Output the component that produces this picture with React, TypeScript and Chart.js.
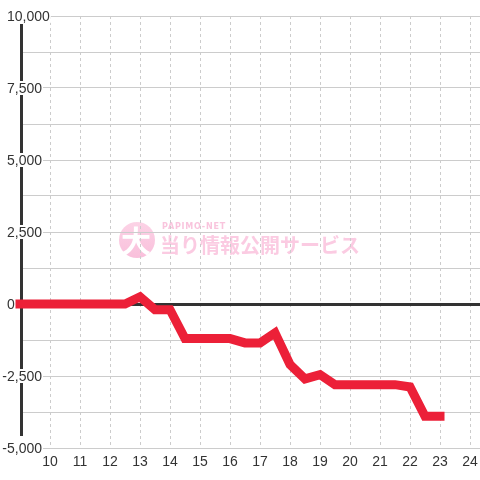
import { useEffect, useRef } from "react";
import { Chart, registerables } from "chart.js";

Chart.register(...registerables);

// ---- data ----
const hours = [9, 9.5, 10, 10.5, 11, 11.5, 12, 12.5, 13, 13.5, 14, 14.5, 15, 15.5, 16, 16.5, 17, 17.5, 18, 18.5, 19, 19.5, 20, 20.5, 21, 21.5, 22, 22.5, 23];
const values = [0, 0, 0, 0, 0, 0, 0, 0, 250, -200, -200, -1200, -1200, -1200, -1200, -1350, -1350, -1000, -2100, -2600, -2450, -2800, -2800, -2800, -2800, -2800, -2880, -3900, -3900];
const xTickLabels = [10, 11, 12, 13, 14, 15, 16, 17, 18, 19, 20, 21, 22, 23, 24];
const yLabelValues = [-5000, -2500, 0, 2500, 5000, 7500, 10000];
const yMin = -5000;
const yMax = 10000;
const yGridStep = 1250;
const xMin = 9;
const xMax = 24.333;

const watermarkSmall = "PAPIMO-NET";
const watermarkBig = "当り情報公開サービス";
const watermarkIcon = "大";

const FONT = "'Liberation Sans', Arial, sans-serif";

const decorPlugin = {
  id: "decor",
  beforeDraw(chart: any) {
    const { ctx, chartArea } = chart;
    const cx = (chartArea.left + chartArea.right) / 2;
    const cy = (chartArea.top + chartArea.bottom) / 2;
    ctx.save();
    // icon circle
    const ix = cx - 113;
    const iy = cy + 8;
    const g = ctx.createLinearGradient(ix, iy - 18, ix, iy + 18);
    g.addColorStop(0, "#fcd3e6");
    g.addColorStop(1, "#f9bfdb");
    ctx.fillStyle = g;
    ctx.beginPath();
    ctx.arc(ix, iy, 18, 0, Math.PI * 2);
    ctx.fill();
    ctx.fillStyle = "#ffffff";
    ctx.font = `bold 30px 'Noto Sans CJK JP', sans-serif`;
    ctx.textAlign = "center";
    ctx.textBaseline = "middle";
    ctx.fillText(watermarkIcon, ix - 1, iy + 1);
    // small text
    ctx.fillStyle = "#f9c4dd";
    ctx.font = `bold 8px 'DejaVu Sans', sans-serif`;
    ctx.textAlign = "left";
    ctx.textBaseline = "middle";
    (ctx as any).letterSpacing = "0.8px";
    ctx.fillText(watermarkSmall, cx - 88, cy - 5);
    (ctx as any).letterSpacing = "0px";
    // big text
    ctx.fillStyle = "#fbcbe2";
    ctx.font = `bold 20px 'Noto Sans CJK JP', sans-serif`;
    ctx.textBaseline = "middle";
    ctx.fillText(watermarkBig, cx - 90, cy + 13);
    ctx.restore();
  },
  beforeDatasetsDraw(chart: any) {
    const { ctx, chartArea, scales } = chart;
    const y = scales.y;
    ctx.save();
    // zero line
    const y0 = y.getPixelForValue(0);
    ctx.strokeStyle = "#333333";
    ctx.lineWidth = 3;
    ctx.beginPath();
    ctx.moveTo(chartArea.left, y0 + 0.5);
    ctx.lineTo(chartArea.right, y0 + 0.5);
    ctx.stroke();
    // axis line
    ctx.beginPath();
    ctx.moveTo(chartArea.left + 1.5, y.getPixelForValue(yMax) + 8);
    ctx.lineTo(chartArea.left + 1.5, y.getPixelForValue(yMin) - 12);
    ctx.stroke();
    // labels
    ctx.font = `14px ${FONT}`;
    ctx.textBaseline = "middle";
    ctx.textAlign = "left";
    const baseX = chartArea.left - 13;
    for (const v of yLabelValues) {
      const label = v.toLocaleString("en-US");
      const py = y.getPixelForValue(v);
      const minusW = v < 0 ? ctx.measureText("-").width : 0;
      const x = baseX - minusW;
      const w = ctx.measureText(label).width;
      ctx.fillStyle = "#ffffff";
      ctx.fillRect(x - 1, py - 7, w + 2, 14);
      ctx.fillStyle = "#333333";
      ctx.fillText(label, x, py + 1);
    }
    ctx.restore();
  },
};

export default function App() {
  const ref = useRef<HTMLCanvasElement | null>(null);
  useEffect(() => {
    if (!ref.current) return;
    const chart = new Chart(ref.current, {
      type: "line",
      data: {
        datasets: [
          {
            data: hours.map((h, i) => ({ x: h, y: values[i] })),
            borderColor: "#ec2038",
            borderWidth: 9,
            borderCapStyle: "square",
            borderJoinStyle: "miter",
            pointRadius: 0,
            tension: 0,
            fill: false,
            clip: false as any,
          },
        ],
      },
      plugins: [decorPlugin],
      options: {
        animation: false,
        responsive: false,
        maintainAspectRatio: false,
        devicePixelRatio: 1,
        layout: { padding: { left: 20, top: 16, right: 0, bottom: 0 } },
        plugins: { legend: { display: false }, tooltip: { enabled: false } },
        scales: {
          x: {
            type: "linear",
            min: xMin,
            max: xMax,
            afterBuildTicks: (s: any) => {
              s.ticks = xTickLabels.map((v) => ({ value: v }));
            },
            afterFit: (s: any) => {
              s.height = 32;
              s.paddingLeft = 0;
              s.paddingRight = 0;
            },
            border: { display: false, dash: [3, 3] },
            grid: { color: "#cccccc", lineWidth: 1, drawTicks: false },
            ticks: {
              color: "#333333",
              font: { size: 14, family: FONT },
              padding: 6,
              autoSkip: false,
              maxRotation: 0,
              callback: (v: any) => String(v),
            },
          } as any,
          y: {
            type: "linear",
            min: yMin,
            max: yMax,
            afterBuildTicks: (s: any) => {
              const t = [];
              for (let v = yMin; v <= yMax; v += yGridStep) t.push({ value: v });
              s.ticks = t;
            },
            afterFit: (s: any) => {
              s.width = 0;
              s.paddingTop = 0;
              s.paddingBottom = 0;
            },
            border: { display: false },
            grid: { color: "#cccccc", lineWidth: 1, drawTicks: false },
            ticks: { display: false },
          },
        },
      },
    });
    return () => chart.destroy();
  }, []);
  return (
    <div style={{ position: "absolute", left: 0, top: 0, width: 480, height: 480, background: "#ffffff" }}>
      <canvas ref={ref} width={480} height={480} style={{ width: 480, height: 480 }} />
    </div>
  );
}
